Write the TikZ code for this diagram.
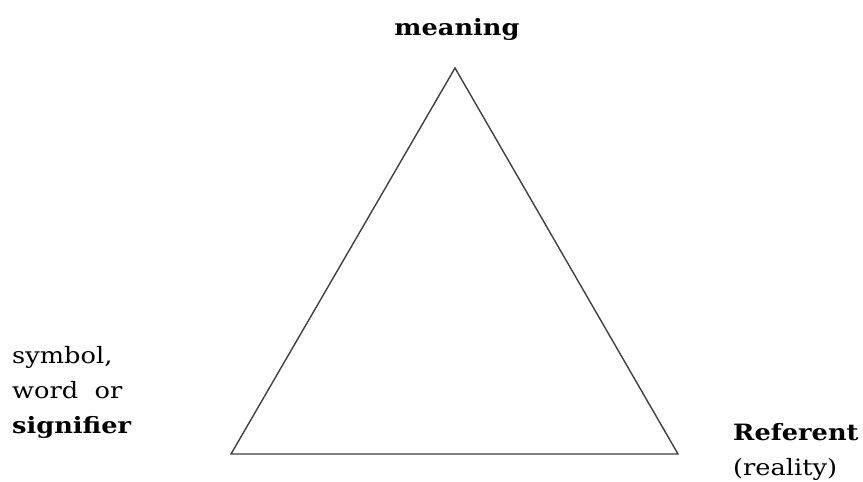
\documentclass[tikz,border=0pt]{standalone}
\usepackage{fontspec}
\setmainfont{DejaVu Serif}
\usetikzlibrary{positioning}

\begin{document}
\begin{tikzpicture}[x=1pt, y=-1pt,
  side/.style={draw=black!75, line width=1.4pt, line join=miter},
  label/.style={inner sep=0pt, font=\fontsize{22.5}{35}\selectfont, align=left, xscale=1.14, transform shape}
]
  \useasboundingbox (0,0) rectangle (863,482);

  \coordinate (apex) at (455,68);
  \coordinate (lcorner) at (231,454);
  \coordinate (rcorner) at (678,454);

  \draw[side] (apex) -- (rcorner) -- (lcorner) -- cycle;

  \node[label, anchor=base] (meaning) at (457,35) {\bfseries meaning};
  \node[label, anchor=base west] (symbol) at (12,433) {symbol,\\word~~or\\\bfseries signifier};
  \node[label, anchor=base west] (referent) at (733,475) {\bfseries Referent\\(reality)};
\end{tikzpicture}
\end{document}
